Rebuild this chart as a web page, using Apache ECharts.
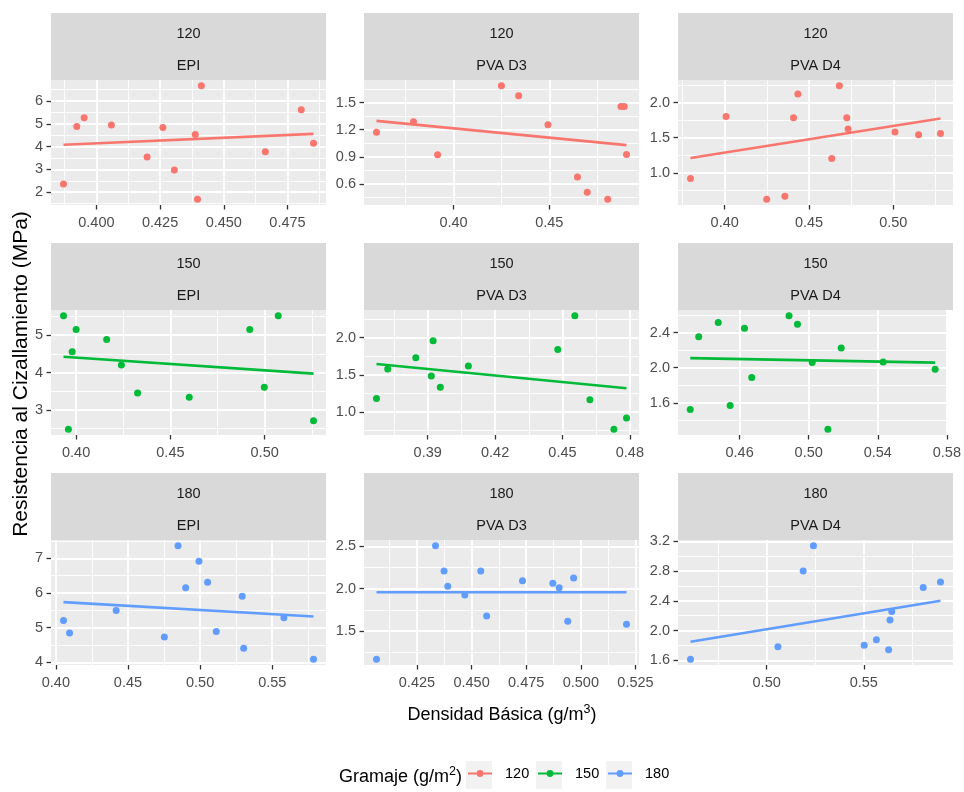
<!DOCTYPE html>
<html><head><meta charset="utf-8">
<script src="https://cdn.jsdelivr.net/npm/echarts@6/dist/echarts.min.js"></script>
<style>html,body{margin:0;padding:0;background:#fff}#c{width:964px;height:792px}</style>
</head><body><div id="c"></div>
<script>
// ---------- data ----------
const gramajes = ['120', '150', '180'];
const adhesivos = ['EPI', 'PVA D3', 'PVA D4'];

const densidad_120_EPI = [0.3871,0.3923,0.3952,0.4059,0.4199,0.4261,0.4306,0.4388,0.4397,0.4412,0.4663,0.4804,0.4852];
const resistencia_120_EPI = [2.36,4.88,5.26,4.95,3.54,4.84,2.97,4.53,1.69,6.67,3.77,5.62,4.15];
const ajuste_120_EPI = [4.08, 4.56];
const ticksX_120_EPI = ['0.400','0.425','0.450','0.475'];
const ticksY_120_EPI = ['2','3','4','5','6'];

const densidad_120_D3 = [0.3598,0.3791,0.3917,0.4250,0.4340,0.4493,0.4647,0.4698,0.4805,0.4874,0.4891,0.4903];
const resistencia_120_D3 = [1.173,1.287,0.923,1.687,1.577,1.254,0.677,0.508,0.431,1.456,1.456,0.927];
const ajuste_120_D3 = [1.298, 1.030];
const ticksX_120_D3 = ['0.40','0.45'];
const ticksY_120_D3 = ['0.6','0.9','1.2','1.5'];

const densidad_120_D4 = [0.3797,0.4008,0.4249,0.4357,0.4408,0.4434,0.4635,0.4680,0.4724,0.4732,0.5010,0.5150,0.5280];
const resistencia_120_D4 = [0.920,1.802,0.623,0.665,1.783,2.123,1.203,2.241,1.783,1.623,1.580,1.542,1.561];
const ajuste_120_D4 = [1.212, 1.774];
const ticksX_120_D4 = ['0.40','0.45','0.50'];
const ticksY_120_D4 = ['1.0','1.5','2.0'];

const densidad_150_EPI = [0.3933,0.3959,0.3979,0.4000,0.4162,0.4240,0.4326,0.4600,0.4921,0.4998,0.5072,0.5259];
const resistencia_150_EPI = [5.524,2.476,4.556,5.151,4.884,4.200,3.453,3.338,5.151,3.604,5.524,2.707];
const ajuste_150_EPI = [4.422, 3.969];
const ticksX_150_EPI = ['0.40','0.45','0.50'];
const ticksY_150_EPI = ['3','4','5'];

const densidad_150_D3 = [0.3672,0.3722,0.3847,0.3916,0.3924,0.3956,0.4081,0.4479,0.4555,0.4622,0.4729,0.4785];
const resistencia_150_D3 = [1.182,1.578,1.729,1.484,1.956,1.333,1.618,1.840,2.293,1.164,0.769,0.920];
const ajuste_150_D3 = [1.644, 1.320];
const ticksX_150_D3 = ['0.39','0.42','0.45','0.48'];
const ticksY_150_D3 = ['1.0','1.5','2.0'];

const densidad_150_D4 = [0.4314,0.4363,0.4476,0.4545,0.4628,0.4670,0.4886,0.4935,0.5020,0.5111,0.5188,0.5431,0.5732];
const resistencia_150_D4 = [1.525,2.351,2.513,1.570,2.449,1.887,2.592,2.494,2.060,1.298,2.223,2.064,1.981];
const ajuste_150_D4 = [2.109, 2.057];
const ticksX_150_D4 = ['0.46','0.50','0.54','0.58'];
const ticksY_150_D4 = ['1.6','2.0','2.4'];

const densidad_180_EPI = [0.4053,0.4095,0.4418,0.4752,0.4847,0.4900,0.4992,0.5052,0.5112,0.5292,0.5302,0.5581,0.5786];
const resistencia_180_EPI = [5.208,4.843,5.495,4.728,7.364,6.147,6.914,6.310,4.891,5.907,4.403,5.284,4.086];
const ajuste_180_EPI = [5.735, 5.323];
const ticksX_180_EPI = ['0.40','0.45','0.50','0.55'];
const ticksY_180_EPI = ['4','5','6','7'];

const densidad_180_D3 = [0.4065,0.4335,0.4374,0.4391,0.4469,0.4542,0.4569,0.4733,0.4872,0.4901,0.4940,0.4967,0.5209];
const resistencia_180_D3 = [1.165,2.508,2.209,2.028,1.925,2.209,1.677,2.094,2.063,2.012,1.614,2.126,1.579];
const ajuste_180_D3 = [1.957, 1.957];
const ticksX_180_D3 = ['0.425','0.450','0.475','0.500','0.525'];
const ticksY_180_D3 = ['1.5','2.0','2.5'];

const densidad_180_D4 = [0.4608,0.5058,0.5188,0.5241,0.5502,0.5565,0.5628,0.5635,0.5644,0.5806,0.5895];
const resistencia_180_D4 = [1.613,1.783,2.802,3.142,1.801,1.877,1.743,2.141,2.257,2.579,2.655];
const ajuste_180_D4 = [1.850, 2.400];
const ticksX_180_D4 = ['0.50','0.55'];
const ticksY_180_D4 = ['1.6','2.0','2.4','2.8','3.2'];

const panels = [
  {g:'120', a:'EPI',    x:densidad_120_EPI, y:resistencia_120_EPI, fit:ajuste_120_EPI, tx:ticksX_120_EPI, ty:ticksY_120_EPI},
  {g:'120', a:'PVA D3', x:densidad_120_D3,  y:resistencia_120_D3,  fit:ajuste_120_D3,  tx:ticksX_120_D3,  ty:ticksY_120_D3},
  {g:'120', a:'PVA D4', x:densidad_120_D4,  y:resistencia_120_D4,  fit:ajuste_120_D4,  tx:ticksX_120_D4,  ty:ticksY_120_D4},
  {g:'150', a:'EPI',    x:densidad_150_EPI, y:resistencia_150_EPI, fit:ajuste_150_EPI, tx:ticksX_150_EPI, ty:ticksY_150_EPI},
  {g:'150', a:'PVA D3', x:densidad_150_D3,  y:resistencia_150_D3,  fit:ajuste_150_D3,  tx:ticksX_150_D3,  ty:ticksY_150_D3},
  {g:'150', a:'PVA D4', x:densidad_150_D4,  y:resistencia_150_D4,  fit:ajuste_150_D4,  tx:ticksX_150_D4,  ty:ticksY_150_D4},
  {g:'180', a:'EPI',    x:densidad_180_EPI, y:resistencia_180_EPI, fit:ajuste_180_EPI, tx:ticksX_180_EPI, ty:ticksY_180_EPI},
  {g:'180', a:'PVA D3', x:densidad_180_D3,  y:resistencia_180_D3,  fit:ajuste_180_D3,  tx:ticksX_180_D3,  ty:ticksY_180_D3},
  {g:'180', a:'PVA D4', x:densidad_180_D4,  y:resistencia_180_D4,  fit:ajuste_180_D4,  tx:ticksX_180_D4,  ty:ticksY_180_D4}
];

// ---------- style / layout ----------
const FONT = '"Liberation Sans", Arial, sans-serif';
const colores = {'120':'#F8766D', '150':'#00BA38', '180':'#619CFF'};
const colLeft = [51, 364, 678];
const panelW = 275;
const stripTop = [13, 243, 473];
const stripH = 67;
const plotH = 125;
const SMALL = 14.5;

function makeAxis(i, min, max, labels, isX) {
  const vals = labels.map(Number);
  const iv = +(vals[1] - vals[0]).toFixed(6);
  return {
    gridIndex: i, type: 'value', min: min, max: max,
    minInterval: iv, maxInterval: iv, splitNumber: 5,
    axisLine: {show: false},
    axisTick: {show: true, length: 4.5, lineStyle: {color: '#333333', width: 1.3}, customValues: vals},
    axisLabel: {
      customValues: vals,
      formatter: function (v) {
        const k = vals.findIndex(t => Math.abs(t - v) < iv * 1e-3);
        return k >= 0 ? labels[k] : '';
      },
      color: '#4D4D4D', fontSize: SMALL, fontFamily: FONT, margin: isX ? 10 : 8, hideOverlap: false
    },
    splitLine: {show: true, lineStyle: {color: '#FFFFFF', width: 1.8}},
    minorTick: {show: false, splitNumber: 2},
    minorSplitLine: {show: true, lineStyle: {color: '#FFFFFF', width: 0.9}}
  };
}

const grids = [], xAxes = [], yAxes = [], series = [], graphics = [];

panels.forEach(function (p, i) {
  const r = Math.floor(i / 3), c = i % 3;
  const left = colLeft[c], top = stripTop[r] + stripH;
  grids.push({left: left, top: top, width: panelW, height: plotH, show: true,
              backgroundColor: '#EBEBEB', borderWidth: 0, containLabel: false});
  const xmin = Math.min.apply(null, p.x), xmax = Math.max.apply(null, p.x);
  const ally = p.y.concat(p.fit);
  const ymin = Math.min.apply(null, ally), ymax = Math.max.apply(null, ally);
  const xp = (xmax - xmin) * 0.05, yp = (ymax - ymin) * 0.05;
  xAxes.push(makeAxis(i, xmin - xp, xmax + xp, p.tx, true));
  yAxes.push(makeAxis(i, ymin - yp, ymax + yp, p.ty, false));

  series.push({
    type: 'line', name: p.g, xAxisIndex: i, yAxisIndex: i,
    data: [[xmin, p.fit[0]], [xmax, p.fit[1]]],
    symbol: 'circle', symbolSize: 7, showSymbol: false,
    lineStyle: {color: colores[p.g], width: 2.6},
    itemStyle: {color: colores[p.g]},
    z: 3, silent: true, animation: false
  });
  series.push({
    type: 'scatter', name: p.g, xAxisIndex: i, yAxisIndex: i,
    data: p.x.map((v, k) => [v, p.y[k]]),
    symbol: 'circle', symbolSize: 7,
    itemStyle: {color: colores[p.g], opacity: 1},
    z: 2, silent: true, animation: false
  });

  // facet strip
  const st = stripTop[r];
  graphics.push({type: 'rect', shape: {x: left, y: st, width: panelW, height: stripH},
                 style: {fill: '#D9D9D9'}, silent: true});
  [[p.g, 20.5], [p.a, 52.5]].forEach(function (t) {
    graphics.push({type: 'text', x: left + panelW / 2, y: st + t[1], silent: true,
      style: {text: t[0], fill: '#1A1A1A', fontSize: SMALL, fontFamily: FONT,
              align: 'center', verticalAlign: 'middle', textAlign: 'center', textVerticalAlign: 'middle'}});
  });
});

// axis titles
const richTitle = {
  a: {fontSize: 18, fontFamily: FONT, color: '#000', lineHeight: 24},
  s: {fontSize: 12.5, fontFamily: FONT, color: '#000', lineHeight: 12, verticalAlign: 'top'}
};
graphics.push({type: 'text', x: 502, y: 715, silent: true,
  style: {text: '{a|Densidad Básica (g/m}{s|3}{a|)}', rich: richTitle,
          align: 'center', verticalAlign: 'middle', textAlign: 'center', textVerticalAlign: 'middle'}});
graphics.push({type: 'text', x: 21, y: 374, rotation: Math.PI / 2, silent: true,
  style: {text: 'Resistencia al Cizallamiento (MPa)', fill: '#000', fontSize: 21, fontFamily: FONT,
          align: 'center', verticalAlign: 'middle', textAlign: 'center', textVerticalAlign: 'middle'}});
// legend title
graphics.push({type: 'text', x: 462, y: 777, silent: true,
  style: {text: '{a|Gramaje (g/m}{s|2}{a|)}', rich: richTitle,
          align: 'right', verticalAlign: 'middle', textAlign: 'right', textVerticalAlign: 'middle'}});
// legend key backgrounds
const keyLeft = [466, 536, 606];
keyLeft.forEach(function (kx) {
  graphics.push({type: 'rect', shape: {x: kx, y: 761, width: 26, height: 28},
                 style: {fill: '#F2F2F2'}, silent: true, z: -1});
});

const legends = gramajes.map(function (g, k) {
  return {
    data: [g], left: keyLeft[k] + 1, top: 766, padding: 0,
    itemWidth: 24, itemHeight: 8.5, selectedMode: false,
    textStyle: {fontSize: SMALL, fontFamily: FONT, color: '#000', padding: [0, 0, 0, 8]}
  };
});

const chart = echarts.init(document.getElementById('c'), null, {renderer: 'canvas'});
chart.setOption({
  animation: false,
  backgroundColor: '#FFFFFF',
  grid: grids, xAxis: xAxes, yAxis: yAxes, series: series,
  legend: legends,
  graphic: {elements: graphics}
});
</script>
</body></html>
